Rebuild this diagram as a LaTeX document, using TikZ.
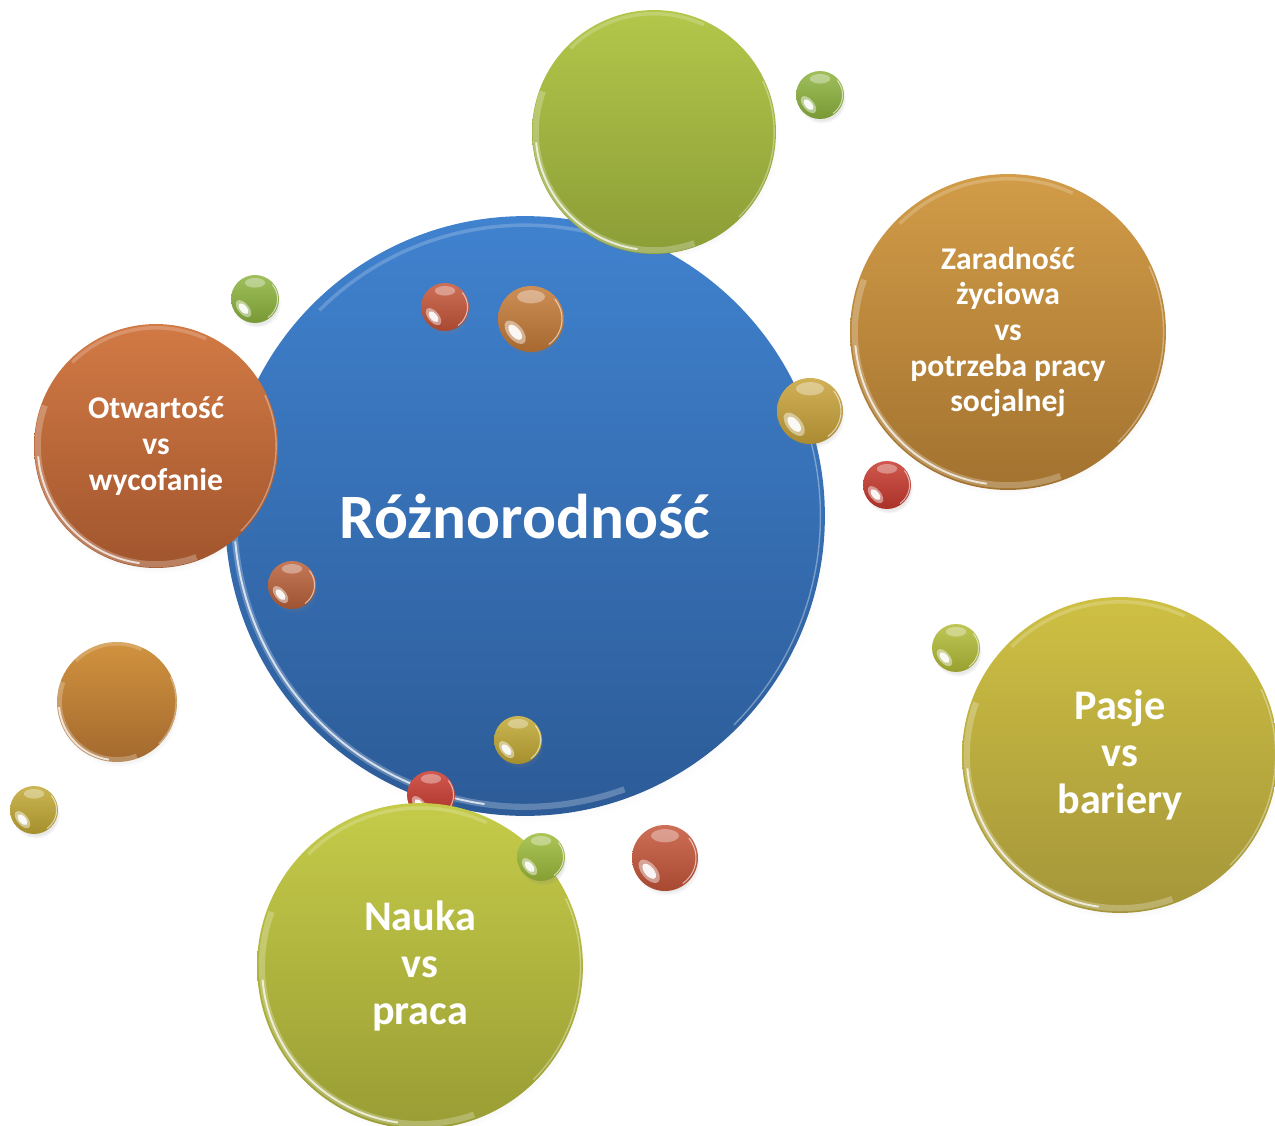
\documentclass[tikz,border=0pt]{standalone}
\usepackage{fontspec}
\setmainfont{Carlito}
\usetikzlibrary{shadows,fadings}
\definecolor{blueT}{HTML}{4082CF}
\definecolor{blueB}{HTML}{2C5B97}
\definecolor{greenT}{HTML}{B3C74B}
\definecolor{greenB}{HTML}{8B9D36}
\definecolor{zarT}{HTML}{D29C48}
\definecolor{zarB}{HTML}{A2722F}
\definecolor{otwT}{HTML}{D27A45}
\definecolor{otwB}{HTML}{A1552D}
\definecolor{naukaT}{HTML}{C5CB49}
\definecolor{naukaB}{HTML}{999D34}
\definecolor{pasjeT}{HTML}{CEC043}
\definecolor{pasjeB}{HTML}{A5963A}
\definecolor{brownT}{HTML}{D1933F}
\definecolor{brownB}{HTML}{A3692E}
\definecolor{cGreen}{HTML}{8DB43E}
\definecolor{cRed}{HTML}{C83A2E}
\definecolor{cRedO}{HTML}{C5553A}
\definecolor{cOrange}{HTML}{C57B38}
\definecolor{cOrangeR}{HTML}{BA613A}
\definecolor{cGold}{HTML}{C9A33A}
\definecolor{cGoldY}{HTML}{C2A935}
\definecolor{cYG}{HTML}{B3BC38}
\definecolor{cGreenY}{HTML}{9DBB3C}
\tikzset{
  bub/.style={circle, inner sep=0pt, outer sep=0pt,
    circular drop shadow={shadow xshift=1pt, shadow yshift=-2.5pt, opacity=.18, shadow scale=1.01}},
  lbl/.style={text=white, font=\bfseries\fontsize{18}{20.3}\selectfont, align=center},
  lblbig/.style={text=white, font=\bfseries\fontsize{24}{27}\selectfont, align=center},
}
\newcommand\glossbig[2]{%
  \draw[white, opacity=.25, line width=3.5pt, shift={(#1.center)}] (160:{#2*0.0194cm}) arc[start angle=160, end angle=290, radius={#2*0.0194cm}];
  \draw[white, opacity=.75, line width=1.1pt, shift={(#1.center)}] (185:{#2*0.0194cm}) arc[start angle=185, end angle=262, radius={#2*0.0194cm}];
  \draw[white, opacity=.2, line width=2pt, shift={(#1.center)}] (65:{#2*0.0194cm}) arc[start angle=65, end angle=135, radius={#2*0.0194cm}];
  \draw[white, opacity=.35, line width=.8pt, shift={(#1.center)}] (-45:{#2*0.0197cm}) arc[start angle=-45, end angle=25, radius={#2*0.0197cm}];
}
\newcommand\ball[5]{%
  \node[bub, minimum size={#4*0.04cm}, top color=#5!85!white, bottom color=#5!85!black] (#1) at (#2,#3) {};
  \fill[white, opacity=.45, shift={(#1.center)}, rotate=220] ({#4*0.0125cm},0pt) ellipse [x radius={#4*0.0045cm}, y radius={#4*0.0085cm}];
  \fill[white, opacity=.9, shift={(#1.center)}, rotate=220] ({#4*0.0125cm},0pt) ellipse [x radius={#4*0.0028cm}, y radius={#4*0.0055cm}];
  \fill[white, opacity=.35, shift={(#1.center)}] (0pt,{#4*0.0135cm}) ellipse [x radius={#4*0.0085cm}, y radius={#4*0.004cm}];
  \draw[white, opacity=.6, line width=.6pt, shift={(#1.center)}] (-55:{#4*0.0188cm}) arc[start angle=-55, end angle=40, radius={#4*0.0188cm}];
}
\begin{document}
\begin{tikzpicture}[x=0.02cm, y=-0.02cm]
\useasboundingbox (0,0) rectangle (1275,1126);
% central bubble
\node[bub, minimum size={300*0.04cm}, top color=blueT, bottom color=blueB,
      text=white, font=\bfseries\fontsize{36}{40}\selectfont] (blue) at (525,516) {Różnorodność};
\glossbig{blue}{300}
% top green
\node[bub, minimum size={122*0.04cm}, top color=greenT, bottom color=greenB] (green) at (654,132) {};
\glossbig{green}{122}
% Otwartosc
\node[bub, minimum size={122*0.04cm}, top color=otwT, bottom color=otwB, lbl] (otw) at (156,446) {Otwartość\\vs\\wycofanie};
\glossbig{otw}{122}
% Zaradnosc
\node[bub, minimum size={158*0.04cm}, top color=zarT, bottom color=zarB, lbl] (zar) at (1008,332) {Zaradność\\życiowa\\vs\\potrzeba pracy\\socjalnej};
\glossbig{zar}{158}
% Pasje
\node[bub, minimum size={158*0.04cm}, top color=pasjeT, bottom color=pasjeB, lblbig] (pasje) at (1120,755) {Pasje\\vs\\bariery};
\glossbig{pasje}{158}
% brown medium
\node[bub, minimum size={60*0.04cm}, top color=brownT, bottom color=brownB] (brown) at (117,702) {};
\glossbig{brown}{60}
% red ball behind Nauka
\ball{red4}{431}{795}{24}{cRed}
% Nauka
\node[bub, minimum size={163*0.04cm}, top color=naukaT, bottom color=naukaB, lblbig] (nauka) at (420,966) {Nauka\\vs\\praca};
\glossbig{nauka}{163}
% small balls
\ball{green1}{820}{95}{24}{cGreen}
\ball{green2}{255}{299}{24}{cGreen}
\ball{red1}{445}{307}{24}{cRedO}
\ball{orange1}{531}{319}{33}{cOrange}
\ball{gold1}{810}{411}{33}{cGold}
\ball{red2}{887}{485}{24}{cRed}
\ball{orange2}{292}{585}{24}{cOrangeR}
\ball{yg}{956}{648}{24}{cYG}
\ball{gold2}{518}{740}{24}{cGoldY}
\ball{gold3}{34}{810}{24}{cGoldY}
\ball{green3}{541}{857}{24}{cGreenY}
\ball{red3}{665}{858}{33}{cRedO}
\end{tikzpicture}
\end{document}
